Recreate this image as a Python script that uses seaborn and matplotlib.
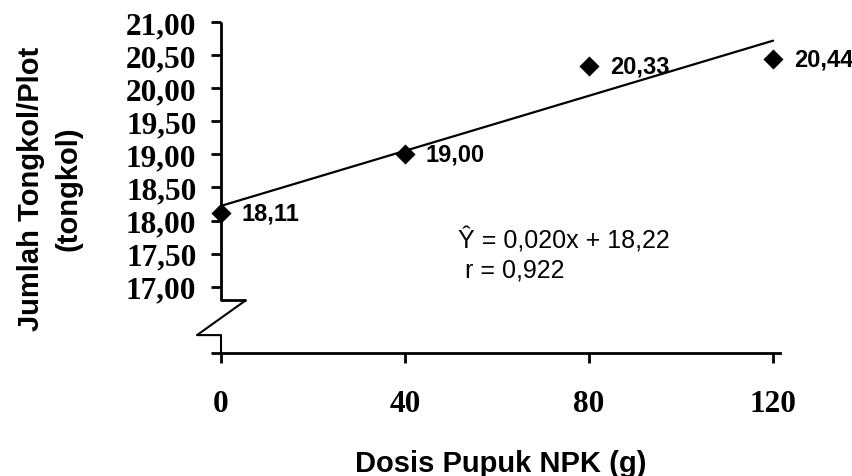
import matplotlib
matplotlib.use('Agg')
import matplotlib.pyplot as plt
import seaborn as sns
import pandas as pd

# --- DATA --- #
dosis = [0, 40, 80, 120]
jumlah = [18.11, 19.00, 20.33, 20.44]
label_titik = ['18,11', '19,00', '20,33', '20,44']

x_ticks = [0, 40, 80, 120]
x_ticklabels = ['0', '40', '80', '120']
y_ticks = [16, 17, 17.5, 18, 18.5, 19, 19.5, 20, 20.5, 21]
y_ticklabels = ['', '17,00', '17,50', '18,00', '18,50', '19,00',
                '19,50', '20,00', '20,50', '21,00']

persamaan = 'Ŷ = 0,020x + 18,22'
nilai_r = 'r = 0,922'

df = pd.DataFrame({'dosis': dosis, 'jumlah': jumlah})

# --- PLOT --- #
sns.set_style('ticks')
plt.rcParams['font.family'] = ['Liberation Sans', 'DejaVu Sans']
plt.rcParams['text.color'] = 'black'
plt.rcParams['axes.labelcolor'] = 'black'
plt.rcParams['xtick.color'] = 'black'
plt.rcParams['ytick.color'] = 'black'

fig = plt.figure(figsize=(8.53, 4.77), dpi=100)
ax = fig.add_axes([0.2591, 0.2579, 0.6553, 0.6939])

# scatter + fitted regression line
sns.regplot(data=df, x='dosis', y='jumlah', ax=ax, ci=None, truncate=True,
            marker='D', color='black',
            scatter_kws={'s': 105, 'alpha': 1, 'linewidths': 0, 'zorder': 4},
            line_kws={'lw': 1.6, 'color': 'black'})
for c in ax.collections:
    c.set_clip_on(False)

ax.set_xlim(0, 121.5)
ax.set_ylim(16, 21)
ax.set_xticks(x_ticks)
ax.set_xticklabels(x_ticklabels)
ax.set_yticks(y_ticks)
ax.set_yticklabels(y_ticklabels)

for lab in ax.get_xticklabels() + ax.get_yticklabels():
    lab.set_family('Liberation Serif')
    lab.set_fontweight('bold')
    lab.set_fontsize(22.5)

ax.tick_params(axis='both', length=7.2, width=2.0, color='black')
ax.tick_params(axis='x', pad=18.5)
ax.tick_params(axis='y', pad=10.5)

# spines
sns.despine(ax=ax)
ax.spines['left'].set_visible(False)
ax.spines['bottom'].set_linewidth(2.0)
ax.spines['bottom'].set_color('black')

# left axis with a break
tr = ax.get_yaxis_transform()
ax.plot([0, 0, 0.045], [21, 16.80, 16.80], transform=tr, color='black',
        lw=2.0, clip_on=False, solid_capstyle='butt')
ax.plot([0.045, -0.043, 0, 0], [16.80, 16.27, 16.27, 16.0], transform=tr,
        color='black', lw=1.5, clip_on=False, solid_capstyle='butt')

# point labels
for x, y, t in zip(dosis, jumlah, label_titik):
    ax.annotate(t, (x, y), xytext=(15, 0), textcoords='offset points',
                va='center', ha='left', fontsize=17, fontweight='bold')

ax.text(51.5, 17.6, persamaan, fontsize=18, va='baseline', ha='left')
ax.text(53, 17.15, nilai_r, fontsize=18, va='baseline', ha='left')

ax.set_xlabel('Dosis Pupuk NPK (g)', fontsize=21, fontweight='bold')
ax.xaxis.set_label_coords(0.5, -0.29)
ax.set_ylabel('Jumlah Tongkol/Plot\n(tongkol)', fontsize=21, fontweight='bold',
              linespacing=1.45)
ax.yaxis.set_label_coords(-0.247, 0.5)

fig.savefig('out.png', dpi=100)
